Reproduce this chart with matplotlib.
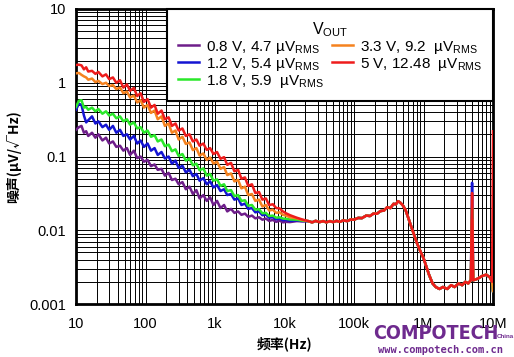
import numpy as np
import matplotlib
matplotlib.use("Agg")
import matplotlib.pyplot as plt
from matplotlib import font_manager as fm

plt.rcParams['font.family'] = ['Liberation Sans', 'DejaVu Sans']
plt.rcParams['mathtext.fontset'] = 'custom'
plt.rcParams['mathtext.rm'] = 'Liberation Sans'
plt.rcParams['mathtext.it'] = 'Liberation Sans'
plt.rcParams['mathtext.bf'] = 'Liberation Sans:bold'
plt.rcParams['mathtext.default'] = 'regular'

# ---------------- data ----------------
labels = ["0.8 V, 4.7 µV$_{RMS}$", "1.2 V, 5.4 µV$_{RMS}$", "1.8 V, 5.9  µV$_{RMS}$",
          "3.3 V, 9.2  µV$_{RMS}$", "5 V, 12.48  µV$_{RMS}$"]
colors = ["#6E1E8A", "#1414D2", "#2AE82A", "#F5821F", "#EE1C1C"]

f_low = [10, 11, 12, 13, 14, 15, 17, 19, 21, 24, 27, 30, 34, 38, 43, 48, 54, 60, 68, 76,
         85, 95, 107, 120, 135, 150, 170, 190, 215, 240, 270, 300, 340, 380, 430, 480,
         540, 600, 680, 760, 850, 950, 1070, 1200, 1350, 1500, 1700, 1900, 2150, 2400,
         2700, 3000, 3400, 3800, 4300, 4800, 5400, 6000, 6800, 7600, 8500, 9500,
         10500, 12000, 15000, 18000]

noise_08 = [0.23, 0.25, 0.26, 0.21, 0.22, 0.19, 0.21, 0.18, 0.20, 0.165, 0.18, 0.15, 0.16,
            0.135, 0.14, 0.12, 0.13, 0.105, 0.12, 0.095, 0.1, 0.085, 0.09, 0.074, 0.078,
            0.066, 0.068, 0.055, 0.06, 0.048, 0.05, 0.042, 0.045, 0.036, 0.039, 0.031,
            0.035, 0.027, 0.03, 0.025, 0.028, 0.022, 0.025, 0.02, 0.022, 0.018, 0.0195,
            0.0172, 0.018, 0.0162, 0.0168, 0.0152, 0.0158, 0.0145, 0.015, 0.0139, 0.0144,
            0.0134, 0.0138, 0.013, 0.0135, 0.0128, 0.013, 0.0129, 0.0133, 0.0132]
noise_12 = [0.43, 0.52, 0.50, 0.36, 0.29, 0.31, 0.35, 0.28, 0.30, 0.25, 0.27, 0.23, 0.26,
            0.21, 0.23, 0.19, 0.2, 0.17, 0.19, 0.15, 0.165, 0.135, 0.15, 0.12, 0.13, 0.105,
            0.115, 0.094, 0.1, 0.08, 0.088, 0.07, 0.075, 0.061, 0.066, 0.054, 0.058, 0.047,
            0.051, 0.042, 0.046, 0.038, 0.041, 0.034, 0.036, 0.03, 0.031, 0.026, 0.027,
            0.022, 0.023, 0.0195, 0.02, 0.0175, 0.018, 0.016, 0.0163, 0.0148, 0.015,
            0.0141, 0.0144, 0.0137, 0.0138, 0.0134, 0.0136, 0.0133]
noise_18 = [0.47, 0.57, 0.58, 0.46, 0.47, 0.43, 0.46, 0.41, 0.44, 0.38, 0.41, 0.36, 0.38,
            0.33, 0.35, 0.30, 0.32, 0.27, 0.29, 0.24, 0.25, 0.21, 0.225, 0.185, 0.195, 0.16,
            0.17, 0.138, 0.145, 0.118, 0.125, 0.102, 0.108, 0.088, 0.094, 0.076, 0.08,
            0.065, 0.069, 0.055, 0.058, 0.047, 0.049, 0.04, 0.042, 0.034, 0.035, 0.029,
            0.03, 0.025, 0.0255, 0.0215, 0.022, 0.019, 0.0193, 0.017, 0.0172, 0.0156,
            0.0158, 0.0148, 0.015, 0.0144, 0.0143, 0.014, 0.0139, 0.0135]
noise_33 = [1.34, 1.36, 1.28, 1.22, 1.18, 1.1, 1.14, 1.02, 1.06, 0.96, 1.0, 0.9, 0.93, 0.82,
            0.86, 0.72, 0.76, 0.63, 0.67, 0.54, 0.58, 0.46, 0.5, 0.39, 0.42, 0.32, 0.35,
            0.26, 0.28, 0.21, 0.225, 0.17, 0.185, 0.148, 0.155, 0.122, 0.13, 0.103, 0.11,
            0.09, 0.097, 0.08, 0.085, 0.068, 0.072, 0.056, 0.059, 0.046, 0.048, 0.037,
            0.039, 0.03, 0.031, 0.025, 0.026, 0.021, 0.022, 0.0185, 0.019, 0.0172, 0.0175,
            0.0162, 0.0158, 0.015, 0.0145, 0.0138]
noise_50 = [1.74, 1.76, 1.72, 1.52, 1.62, 1.42, 1.45, 1.32, 1.4, 1.22, 1.3, 1.12, 1.18, 1.0,
            1.08, 0.86, 0.95, 0.78, 0.85, 0.66, 0.72, 0.55, 0.6, 0.46, 0.5, 0.38, 0.42, 0.32,
            0.34, 0.26, 0.28, 0.225, 0.24, 0.19, 0.2, 0.16, 0.17, 0.14, 0.15, 0.123, 0.13,
            0.108, 0.115, 0.093, 0.098, 0.077, 0.082, 0.063, 0.066, 0.05, 0.052, 0.04,
            0.042, 0.032, 0.033, 0.026, 0.027, 0.022, 0.0225, 0.02, 0.0198, 0.018, 0.017,
            0.016, 0.0148, 0.014]

# shared high-frequency part (all outputs overlap here)
f_high = [22e3, 25e3, 28e3, 32e3, 36e3, 40e3, 45e3, 50e3, 56e3, 63e3,
          70e3, 80e3, 90e3, 100e3, 115e3, 130e3, 150e3, 170e3, 190e3, 215e3,
          240e3, 270e3, 300e3, 335e3, 370e3, 400e3, 430e3, 460e3, 500e3, 550e3,
          600e3, 650e3, 700e3, 800e3, 900e3, 1.0e6, 1.1e6, 1.2e6, 1.35e6, 1.5e6,
          1.7e6, 1.9e6, 2.2e6, 2.5e6, 2.8e6, 3.2e6, 3.6e6, 4.0e6, 4.4e6, 4.8e6]
noise_high = [0.0133, 0.0128, 0.0134, 0.0129, 0.0133, 0.0128, 0.0133, 0.0129, 0.0134, 0.013,
              0.0136, 0.0133, 0.014, 0.0139, 0.0147, 0.0146, 0.0158, 0.0156, 0.0168, 0.0168,
              0.0182, 0.0185, 0.0205, 0.02, 0.0228, 0.0225, 0.0248, 0.0238, 0.022, 0.019,
              0.015, 0.012, 0.0098, 0.0068, 0.0052, 0.0042, 0.0032, 0.0025, 0.0019, 0.0017,
              0.0016, 0.0017, 0.0016, 0.0018, 0.0017, 0.0019, 0.0018, 0.002, 0.0019, 0.0021]
f_tail = [5.0e6, 5.2e6, 6.0e6, 7.0e6, 8.0e6, 9.0e6, 9.7e6, 10.0e6]
tail_common = [0.0021, 0.0022, 0.0024, 0.0025, 0.0023, 0.002]
spike_5M = [0.0023, 0.044, 0.02, 0.014, 0.032]
end_10M = [0.0015, 0.0015, 0.0015, 0.0015, 0.22]

lows = [noise_08, noise_12, noise_18, noise_33, noise_50]

# ---------------- figure ----------------
fig = plt.figure(figsize=(5.14, 3.57), dpi=100)
ax = fig.add_axes([76/514, 1-304/357, (493-76)/514, (304-9)/357])

for i in range(5):
    f = f_low + f_high + f_tail
    v = lows[i] + noise_high + [spike_5M[i]] + tail_common + [end_10M[i]]
    ax.plot(f, v, color=colors[i], lw=1.8, label=labels[i], zorder=3)

ax.set_xscale('log')
ax.set_yscale('log')
ax.set_xlim(10, 1e7)
ax.set_ylim(0.001, 10)

ax.set_xticks([10, 100, 1e3, 1e4, 1e5, 1e6, 1e7])
ax.set_xticklabels(["10", "100", "1k", "10k", "100k", "1M", "10M"])
ax.set_yticks([0.001, 0.01, 0.1, 1, 10])
ax.set_yticklabels(["0.001", "0.01", "0.1", "1", "10"])
ax.tick_params(axis='both', which='both', length=0, labelsize=10.5)
ax.tick_params(axis='x', pad=9)
ax.tick_params(axis='y', pad=7)
ax.grid(True, which='both', color='black', lw=0.7, zorder=1)
for s in ax.spines.values():
    s.set_linewidth(2)
    s.set_color('black')

leg = ax.legend(loc='upper right', ncol=2, title="V$_{OUT}$", fontsize=11,
                title_fontsize=11.5, borderaxespad=0, frameon=True, fancybox=False,
                handlelength=1.35, handletextpad=0.45, columnspacing=0.55,
                labelspacing=0.0, borderpad=0.72)
leg.get_frame().set_edgecolor('black')
leg.get_frame().set_linewidth(1.5)
leg.get_frame().set_alpha(1)
leg.set_zorder(5)

ax.set_xlabel("频率(Hz)", family=['Noto Sans CJK SC', 'DejaVu Sans'],
              fontweight='bold', fontsize=10, labelpad=4)
ax.set_ylabel("噪声(µV/√Hz)", family=['Noto Sans CJK SC', 'DejaVu Sans'],
              fontweight='bold', fontsize=10, labelpad=6)

# watermark (bold condensed face if one is installed)
bold_narrow = [f.fname for f in fm.fontManager.ttflist
               if ('Narrow' in f.fname or 'Condensed' in f.fname)
               and 'Bold' in f.fname and 'Italic' not in f.fname
               and 'Oblique' not in f.fname]
if bold_narrow:
    wm_prop = fm.FontProperties(fname=sorted(bold_narrow)[0], size=17)
else:
    wm_prop = fm.FontProperties(family='Liberation Sans', weight='bold', size=17)
wm = fig.text(373/514, 1-339/357, "COMPOTECH", color="#6E2A8E",
              fontproperties=wm_prop, ha='left', va='baseline')
fig.canvas.draw()
w = wm.get_window_extent().width
if w > 0:
    wm.set_fontsize(17 * 125.0 / w)
fig.text(497/514, 1-338/357, "China", color="#6E2A8E", fontsize=4.5, fontweight='bold',
         ha='left', va='baseline')
fig.text(441/514, 1-353/357, "www.compotech.com.cn", color="#6E2A8E", fontsize=7.5,
         fontweight='bold', family='DejaVu Sans Mono', ha='center', va='baseline')

fig.savefig("out.png", dpi=100)
